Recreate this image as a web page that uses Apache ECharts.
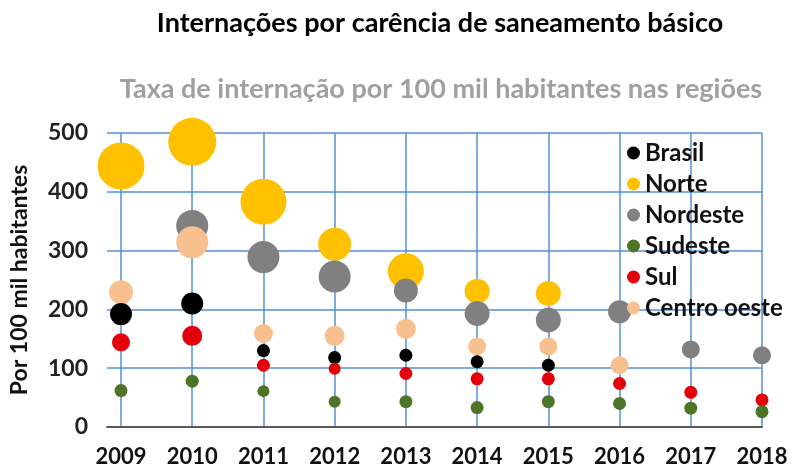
<!DOCTYPE html>
<html>
<head>
<meta charset="utf-8">
<title>Internações por carência de saneamento básico</title>
<script src="https://cdn.jsdelivr.net/npm/echarts@6/dist/echarts.min.js"></script>
<style>
    html,body{margin:0;padding:0;background:#fff;}
    #chart{width:793px;height:470px;}
</style>
</head>
<body>
<div id="chart"></div>
<script>
// anos
var years = ['2009','2010','2011','2012','2013','2014','2015','2016','2017','2018'];
var yTicks = [0,100,200,300,400,500];

// taxa por 100 mil habitantes (null = sem dado)
var brasil      = [192, 210, 130, 118, 122, 111, 105, null, null, null];
var norte       = [444, 485, 383, 311, 265, 231, 227, null, null, null];
var nordeste    = [null, 342, 289, 256, 232, 193, 182, 196, 132, 122];
var sudeste     = [62, 78, 61, 43, 43, 33, 43, 40, 32, 26];
var sul         = [144, 155, 105, 99, 91, 82, 82, 74, 59, 46];
var centroOeste = [229, 314, 159, 155, 167, 137, 137, 105, null, null];

// tamanho das bolhas
var brasilSize      = [22, 22, 13, 13, 13, 13, 13, 0, 0, 0];
var norteSize       = [47, 48, 46, 33, 36, 25, 25, 0, 0, 0];
var nordesteSize    = [0, 32, 32, 32, 24, 25, 25, 23, 18, 18];
var sudesteSize     = [13, 13, 12, 12, 13, 13, 13, 13, 13, 13];
var sulSize         = [18, 20, 13, 12, 13, 13, 13, 13, 13, 13];
var centroOesteSize = [24, 32, 19, 20, 20, 18, 18, 18, 0, 0];

var FONT = 'Lato';
var GRID_BLUE = '#5590d6';

function bubbleSeries(name, values, sizes, color){
    var data = [];
    for(var i = 0;i<values.length;i++){
        if(values[i] == null){
            data.push([years[i], null, 0]);
        }else{
            data.push([years[i], values[i], sizes[i]]);
        }
    }
    return {
        name: name,
        type: 'scatter',
        xAxisIndex: 1,
        yAxisIndex: 1,
        data: data,
        symbolSize: function(d){ return d[2]; },
        itemStyle: {color: color, opacity: 1},
        emphasis: {disabled: true}
    };
}

function getChart(id){
    var dom = document.getElementById(id);
    if(dom!=null)
        return echarts.init(dom, null, {renderer: 'canvas'});
    else
        return null;
}

var chart = getChart('chart');
var option = {
    animation: false,
    backgroundColor: '#fff',
    title: [
        {
            text: 'Internações por carência de saneamento básico',
            left: 440, top: 10, textAlign: 'center', padding: 0,
            textStyle: {fontFamily: FONT, fontWeight: 'bold', fontSize: 27, color: '#000'}
        },
        {
            text: 'Taxa de internação por 100 mil habitantes nas regiões',
            left: 441, top: 76, textAlign: 'center', padding: 0,
            textStyle: {fontFamily: FONT, fontWeight: 'bold', fontSize: 27, color: '#a0a0a0'}
        }
    ],
    legend: {
        orient: 'vertical',
        left: 627,
        top: 141,
        itemWidth: 13,
        itemHeight: 13,
        itemGap: 7,
        icon: 'circle',
        padding: 0,
        selectedMode: false,
        data: ['Brasil','Norte','Nordeste','Sudeste','Sul','Centro oeste'],
        textStyle: {fontFamily: FONT, fontWeight: 'bold', fontSize: 24, color: '#111', lineHeight: 24}
    },
    grid: [
        {left: 99, right: 31, top: 133, bottom: 43},
        {left: 121, right: 31, top: 133, bottom: 43}
    ],
    xAxis: [
        {
            gridIndex: 0, type: 'value', min: 0, max: 1,
            axisLine: {show: true, lineStyle: {color: '#5a5a5a', width: 2}},
            axisTick: {show: false}, axisLabel: {show: false}, splitLine: {show: false}
        },
        {
            gridIndex: 1, type: 'category', data: years, boundaryGap: false,
            axisLine: {show: false}, axisTick: {show: false},
            axisLabel: {margin: 19, fontFamily: FONT, fontWeight: 'bold', fontSize: 22, color: '#111', interval: 0},
            splitLine: {show: true, interval: 0, lineStyle: {color: GRID_BLUE, width: 1.5}}
        }
    ],
    yAxis: [
        {
            gridIndex: 0, type: 'value', min: yTicks[0], max: yTicks[yTicks.length-1], interval: 100,
            name: 'Por 100 mil habitantes', nameLocation: 'middle', nameGap: 76, nameRotate: 90,
            nameTextStyle: {fontFamily: FONT, fontWeight: 'bold', fontSize: 23, color: '#111'},
            axisLine: {show: false}, axisTick: {show: false},
            axisLabel: {margin: 19, fontFamily: FONT, fontWeight: 'bold', fontSize: 23, color: '#222'},
            splitLine: {show: true, lineStyle: {color: GRID_BLUE, width: 1.5}}
        },
        {
            gridIndex: 1, type: 'value', min: yTicks[0], max: yTicks[yTicks.length-1], interval: 100,
            show: false, splitLine: {show: false}
        }
    ],
    series: [
        bubbleSeries('Norte', norte, norteSize, '#ffc000'),
        bubbleSeries('Nordeste', nordeste, nordesteSize, '#808080'),
        bubbleSeries('Centro oeste', centroOeste, centroOesteSize, '#f9c08f'),
        bubbleSeries('Brasil', brasil, brasilSize, '#000000'),
        bubbleSeries('Sul', sul, sulSize, '#e3000b'),
        bubbleSeries('Sudeste', sudeste, sudesteSize, '#4e7527')
    ]
};
chart.setOption(option);
</script>
</body>
</html>
